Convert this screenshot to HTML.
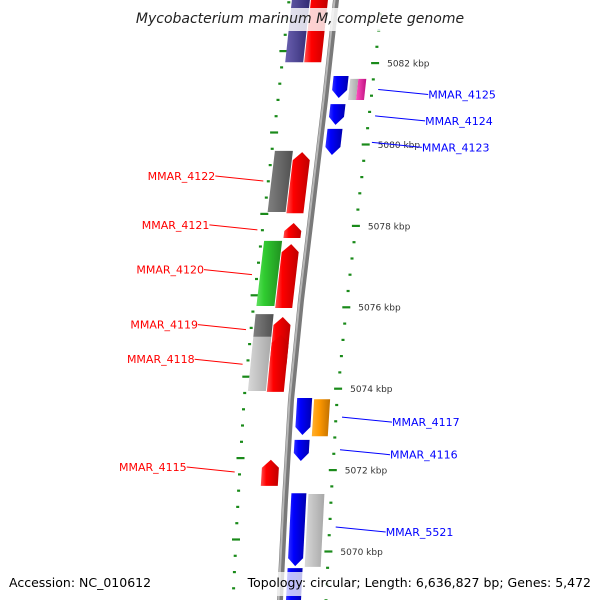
<!DOCTYPE html>
<html><head><meta charset="utf-8"><style>
html,body{margin:0;padding:0;background:#fff;}
svg{display:block;font-family:"DejaVu Sans","Liberation Sans",sans-serif;}
</style></head><body>
<svg id="map" width="600" height="600" viewBox="0 0 600 600" xmlns="http://www.w3.org/2000/svg">
<defs>
<linearGradient id="g-red" x1="0" x2="1"><stop offset="0" stop-color="#ff5050"/><stop offset="0.3" stop-color="#ff0000"/><stop offset="1" stop-color="#c00000"/></linearGradient>
<linearGradient id="g-blue" x1="0" x2="1"><stop offset="0" stop-color="#3030ff"/><stop offset="0.3" stop-color="#0000ff"/><stop offset="1" stop-color="#0000b0"/></linearGradient>
<linearGradient id="g-purple" x1="0" x2="1"><stop offset="0" stop-color="#6a60b0"/><stop offset="1" stop-color="#2e2870"/></linearGradient>
<linearGradient id="g-dgray" x1="0" x2="1"><stop offset="0" stop-color="#808080"/><stop offset="1" stop-color="#505050"/></linearGradient>
<linearGradient id="g-lgray" x1="0" x2="1"><stop offset="0" stop-color="#d8d8d8"/><stop offset="1" stop-color="#a8a8a8"/></linearGradient>
<linearGradient id="g-green" x1="0" x2="1"><stop offset="0" stop-color="#60e060"/><stop offset="0.3" stop-color="#30cc30"/><stop offset="1" stop-color="#209020"/></linearGradient>
<linearGradient id="g-orange" x1="0" x2="1"><stop offset="0" stop-color="#ffb030"/><stop offset="0.4" stop-color="#ff9900"/><stop offset="1" stop-color="#c07000"/></linearGradient>
<linearGradient id="g-pink" x1="0" x2="1"><stop offset="0" stop-color="#ff50c0"/><stop offset="1" stop-color="#c01080"/></linearGradient>
</defs>
<g id="rings"></g>
<g id="backbone"></g>
<g id="genes"></g>
<g id="labels"></g>
<rect x="140" y="8" width="320" height="23" fill="#fff" fill-opacity="0.82"/>
<text x="300" y="23" text-anchor="middle" font-size="14" font-style="italic" fill="#222">Mycobacterium marinum M, complete genome</text>
<rect x="258" y="572" width="340" height="24" fill="#fff" fill-opacity="0.75"/>
<text x="9" y="587" font-size="12.5" fill="#000">Accession: NC_010612</text>
<text x="591" y="587" text-anchor="end" font-size="12.5" fill="#000">Topology: circular; Length: 6,636,827 bp; Genes: 5,472</text>
</svg>
<script>
// ---- data ----
const tickMajor = [5082, 5080, 5078, 5076, 5074, 5072, 5070];
const tickLabels = ["5082 kbp","5080 kbp","5078 kbp","5076 kbp","5074 kbp","5072 kbp","5070 kbp"];
const geneNames = ["top-purple","top-red","MMAR_4125","MMAR_4125b","MMAR_4125c","MMAR_4124","MMAR_4123","MMAR_4122","MMAR_4122b","MMAR_4121","MMAR_4120","MMAR_4120b","MMAR_4119b","MMAR_4118b","MMAR_4119","MMAR_4118","MMAR_4117","MMAR_4117b","MMAR_4116","MMAR_4115","MMAR_5521","MMAR_5521b","bottom-blue"];
const geneStart = [5083.8,5083.8,5081.68,5081.61,5081.61,5080.99,5080.38,5079.81,5079.84,5078.07,5077.55,5077.63,5075.83,5075.27,5075.76,5075.32,5073.77,5073.74,5072.74,5072.25,5071.43,5071.41,5069.59];
const geneEnd   = [5082.02,5082.02,5081.14,5081.09,5081.09,5080.48,5079.74,5078.31,5078.34,5077.70,5075.98,5076.03,5075.27,5073.94,5074.58,5073.92,5072.86,5072.83,5072.22,5071.61,5069.64,5069.62,5068.5];
const geneLane  = ["L2","L1","R1","R2a","R2b","R1","R1","L1","L2","L1","L1","L2","L2","L2","L1","L1","R1","R2","R1","L1","R1","R2","R1"];
const geneColor = ["purple","red","blue","lgray","pink","blue","blue","red","dgray","red","red","green","dgray","lgray","red","red","blue","orange","blue","red","blue","lgray","blue"];
const geneStrand= [0,1,-1,0,0,-1,-1,1,0,1,1,0,0,0,1,1,-1,0,-1,1,-1,0,-1];
const labelNames = ["MMAR_4122","MMAR_4121","MMAR_4120","MMAR_4119","MMAR_4118","MMAR_4115","MMAR_4125","MMAR_4124","MMAR_4123","MMAR_4117","MMAR_4116","MMAR_5521"];
const labelKbp = [5079.1,5077.9,5076.8,5075.45,5074.6,5071.95,5081.35,5080.7,5080.05,5073.3,5072.5,5070.6];
const labelSide = [-1,-1,-1,-1,-1,-1,1,1,1,1,1,1];

// ---- axis functions ----
const NS="http://www.w3.org/2000/svg";
function yOf(k){ return 63 + (5082 - k) * 40.7; }
const bbY=[-20,0,100,200,300,400,500,600,620];
const bbX=[338,336,325,313,301,291,285,280,279];
function bx(y){ for(let i=0;i<bbY.length-1;i++){ if(y<=bbY[i+1]||i===bbY.length-2){ const t=(y-bbY[i])/(bbY[i+1]-bbY[i]); return bbX[i]+t*(bbX[i+1]-bbX[i]); } } }
const lanes={L1:[-25,-8],L2:[-44,-26],R1:[6,21],R2:[23,39],R2a:[23,31],R2b:[31,39]};
const colors={red:"url(#g-red)",blue:"url(#g-blue)",purple:"url(#g-purple)",dgray:"url(#g-dgray)",lgray:"url(#g-lgray)",green:"url(#g-green)",orange:"url(#g-orange)",pink:"url(#g-pink)"};
function mk(tag,attrs,parent){ const e=document.createElementNS(NS,tag); for(const k in attrs) e.setAttribute(k,attrs[k]); parent.appendChild(e); return e; }

// backbone
const bb=document.getElementById('backbone');
let d=""; for(let y=-10;y<=610;y+=10){ d+=(y===-10?"M":"L")+bx(y).toFixed(1)+","+y+" "; }
const b1=mk('path',{d:d,fill:"none",stroke:"#7a7a7a","stroke-width":6},bb);


let d2=""; for(let y=-10;y<=610;y+=10){ d2+=(y===-10?"M":"L")+(bx(y)-1.5).toFixed(1)+","+y+" "; }
const b2=mk('path',{d:d2,fill:"none",stroke:"#b8b8b8","stroke-width":2},bb);



// tick rings
const rings=document.getElementById('rings');
for(let k=5084; k>=5068; k=Math.round((k-0.4)*10)/10){
  const major = tickMajor.indexOf(Math.round(k*10)/10)>=0;
  const yo=yOf(k), yi=yo-12;
  [[yo, bx(yo)+46],[yi, bx(yi)-47]].forEach(function(p,j){
    if(p[0]<-5||p[0]>605) return;
    const w=major?8:3;
    const r=mk('rect',{x:(p[1]-w/2).toFixed(1),y:(p[0]-1).toFixed(1),width:w,height:2.2,fill:"#1a8a1a"},rings);
    
    
  });
}
tickMajor.forEach(function(k,i){
  const y=yOf(k);
  const t=mk('text',{x:(bx(y)+58).toFixed(1),y:(y+3.5).toFixed(1),"font-size":"9",fill:"#333"},rings);
  t.textContent=tickLabels[i];
  
  
});

// genes
const gg=document.getElementById('genes');
geneStart.forEach(function(s,i){
  const y0=yOf(s), y1=yOf(geneEnd[i]);
  const L=lanes[geneLane[i]];
  const xa=function(y){return bx(y)+L[0];}, xb=function(y){return bx(y)+L[1];};
  const h=8, st=geneStrand[i];
  let pts=[];
  if(st===1){
    const yt=y0+h;
    pts=[[xa(y1),y1],[xa(yt),yt],[(xa(y0)+xb(y0))/2,y0],[xb(yt),yt],[xb(y1),y1]];
  } else if(st===-1){
    const yb=y1-h;
    pts=[[xa(y0),y0],[xb(y0),y0],[xb(yb),yb],[(xa(y1)+xb(y1))/2,y1],[xa(yb),yb]];
  } else {
    pts=[[xa(y0),y0],[xb(y0),y0],[xb(y1),y1],[xa(y1),y1]];
  }
  const p=mk('polygon',{points:pts.map(function(q){return q[0].toFixed(1)+","+q[1].toFixed(1);}).join(" "),fill:colors[geneColor[i]]},gg);
  
  
});

// labels
const lg=document.getElementById('labels');
labelNames.forEach(function(n,i){
  const y=yOf(labelKbp[i]);
  const side=labelSide[i];
  const col=side<0?"#ff0000":"#0000ff";
  const x1=side<0?bx(y)-52:bx(y)+52;
  const x2=side<0?x1-48:x1+50;
  const y2=side<0?y-5:y+5;
  const l=mk('line',{x1:x1.toFixed(1),y1:y.toFixed(1),x2:x2.toFixed(1),y2:y2.toFixed(1),stroke:col,"stroke-width":1},lg);
  
  
  const t=mk('text',{x:x2.toFixed(1),y:(y2+4).toFixed(1),"font-size":"11",fill:col,"text-anchor":side<0?"end":"start"},lg);
  t.textContent=n;
  
  
});
</script>
</body></html>
